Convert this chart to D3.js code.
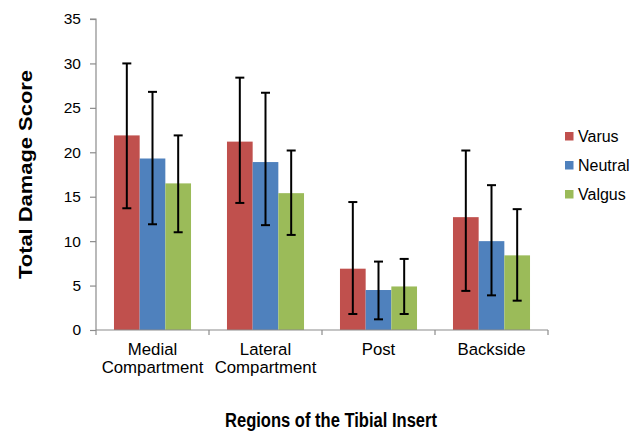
<!DOCTYPE html>
<html>
<head>
<meta charset="utf-8">
<script src="https://cdn.jsdelivr.net/npm/d3@7/dist/d3.min.js"></script>
<style>
  html, body { margin: 0; padding: 0; background: #fff; }
  text { font-family: "Liberation Sans", Arial, sans-serif; fill: #000; }
</style>
</head>
<body>
<svg id="chart" width="644" height="431"></svg>
<script>
// ---- data ----
const categories = [["Medial", "Compartment"], ["Lateral", "Compartment"], ["Post"], ["Backside"]];
const seriesNames = ["Varus", "Neutral", "Valgus"];
const seriesColors = ["#C0504D", "#4F81BD", "#9BBB59"];
const varusMean   = [21.9, 21.2, 6.9, 12.7];
const neutralMean = [19.3, 18.9, 4.5, 10.0];
const valgusMean  = [16.5, 15.4, 4.9, 8.4];
const varusHigh   = [30.0, 28.4, 14.4, 20.2];
const varusLow    = [13.7, 14.3, 1.8, 4.4];
const neutralHigh = [26.8, 26.7, 7.7, 16.3];
const neutralLow  = [11.9, 11.8, 1.2, 3.9];
const valgusHigh  = [21.9, 20.2, 8.0, 13.6];
const valgusLow   = [11.0, 10.7, 1.8, 3.3];
const yTicks = [0, 5, 10, 15, 20, 25, 30, 35];
const yTitle = "Total Damage Score";
const xTitle = "Regions of the Tibial Insert";

const means = [varusMean, neutralMean, valgusMean];
const highs = [varusHigh, neutralHigh, valgusHigh];
const lows  = [varusLow, neutralLow, valgusLow];

const svg = d3.select("#chart");
const plotLeft = 96, plotRight = 548, plotTop = 19, plotBottom = 330;

const catKeys = categories.map(c => c.join(" "));
const x0 = d3.scaleBand().domain(catKeys).range([plotLeft, plotRight]).paddingInner(0).paddingOuter(0);
const x1 = d3.scaleBand().domain(seriesNames).range([0, x0.bandwidth()]).paddingInner(0).paddingOuter(0.7);
const y = d3.scaleLinear().domain([0, 35]).range([plotBottom, plotTop]);

const axisColor = "#8c8c8c";

// bars
const rows = [];
catKeys.forEach((c, i) => {
  seriesNames.forEach((s, j) => {
    rows.push({cat: c, s, j, v: means[j][i], hi: highs[j][i], lo: lows[j][i]});
  });
});

svg.append("g").selectAll("rect").data(rows).join("rect")
  .attr("x", d => x0(d.cat) + x1(d.s))
  .attr("y", d => y(d.v))
  .attr("width", x1.bandwidth())
  .attr("height", d => y(0) - y(d.v))
  .attr("fill", d => seriesColors[d.j]);

// y axis
const yAxis = svg.append("g").attr("transform", `translate(${plotLeft},0)`)
  .call(d3.axisLeft(y).tickValues(yTicks).tickSize(6).tickPadding(9).tickFormat(d3.format("d")));
yAxis.select(".domain").attr("stroke", axisColor).attr("stroke-width", 1.2).attr("d", `M-6,${y(35)}H0V${y(0)}`);
yAxis.selectAll(".tick line").attr("stroke", axisColor).attr("stroke-width", 1.2);
yAxis.selectAll(".tick text").style("font-size", "15.5px").attr("fill", "#000");

// x axis
const xAxisG = svg.append("g").attr("transform", `translate(0,${plotBottom})`);
xAxisG.append("line").attr("x1", plotLeft).attr("x2", plotRight).attr("y1", 0).attr("y2", 0)
  .attr("stroke", axisColor).attr("stroke-width", 1.2);
const boundaries = catKeys.map(c => x0(c)).concat([x0(catKeys[catKeys.length - 1]) + x0.bandwidth()]);
xAxisG.selectAll("line.tk").data(boundaries).join("line").attr("class", "tk")
  .attr("x1", d => d).attr("x2", d => d).attr("y1", 0).attr("y2", 5)
  .attr("stroke", axisColor).attr("stroke-width", 1.2);

// category labels
categories.forEach((lines, i) => {
  const cx = x0(catKeys[i]) + x0.bandwidth() / 2;
  const t = svg.append("text").attr("text-anchor", "middle").style("font-size", "16.8px");
  lines.forEach((ln, k) => {
    t.append("tspan").attr("x", cx).attr("y", 355 + k * 18).text(ln);
  });
});

// error bars
const eg = svg.append("g").attr("stroke", "#000").attr("stroke-width", 2).attr("fill", "none");
rows.forEach(d => {
  const cx = x0(d.cat) + x1(d.s) + x1.bandwidth() / 2;
  eg.append("line").attr("x1", cx).attr("x2", cx).attr("y1", y(d.hi)).attr("y2", y(d.lo));
  eg.append("line").attr("x1", cx - 4.5).attr("x2", cx + 4.5).attr("y1", y(d.hi)).attr("y2", y(d.hi));
  eg.append("line").attr("x1", cx - 4.5).attr("x2", cx + 4.5).attr("y1", y(d.lo)).attr("y2", y(d.lo));
});

// legend
seriesNames.forEach((s, j) => {
  const cy = 136 + j * 29;
  svg.append("rect").attr("x", 565).attr("y", cy - 4).attr("width", 8.5).attr("height", 8.5).attr("fill", seriesColors[j]);
  svg.append("text").attr("x", 578).attr("y", cy + 5.5).style("font-size", "16px").text(s);
});

// axis titles
svg.append("text")
  .attr("transform", `translate(32,174.5) rotate(-90)`)
  .attr("text-anchor", "middle")
  .attr("textLength", 209).attr("lengthAdjust", "spacingAndGlyphs")
  .style("font-size", "18.5px").style("font-weight", "bold")
  .text(yTitle);

svg.append("text")
  .attr("x", 331).attr("y", 426.5)
  .attr("text-anchor", "middle")
  .attr("textLength", 212).attr("lengthAdjust", "spacingAndGlyphs")
  .style("font-size", "20px").style("font-weight", "bold")
  .text(xTitle);
</script>
</body>
</html>
